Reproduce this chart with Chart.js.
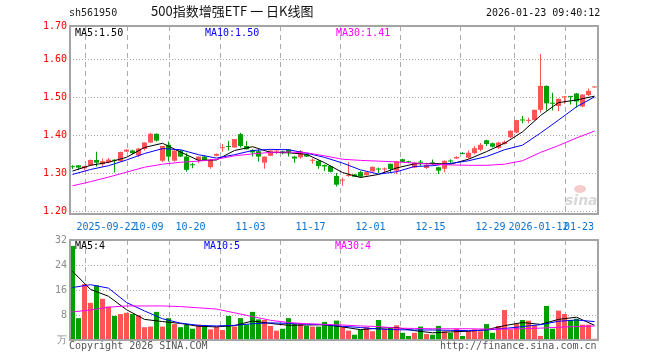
<!DOCTYPE html>
<html>
<head>
<meta charset="utf-8">
<title>500指数增强ETF 日K线图</title>
<script src="https://cdn.jsdelivr.net/npm/chart.js@4.4.1/dist/chart.umd.min.js"></script>
<style>
  body { margin: 0; background: #fff; }
  #box { position: relative; width: 660px; height: 360px; overflow: hidden; font: 10px 'DejaVu Sans Mono', monospace; }
  #box canvas { position: absolute; left: 0; }
  .txt { position: absolute; white-space: pre; line-height: 12px; }
</style>
</head>
<body>
<div id="box">
  <canvas id="kChart" width="660" height="240" style="top:0"></canvas>
  <canvas id="volChart" width="660" height="130" style="top:230px"></canvas>
  <div class="txt" style="left:69px;top:7px;color:#222">sh561950</div>
  <div class="txt" style="left:151px;top:3px;font:13px 'Noto Sans CJK SC';line-height:16px;color:#111">500指数增强ETF 一 日K线图</div>
  <div class="txt" style="left:486px;top:7px;color:#111">2026-01-23 09:40:12</div>
  <div class="txt" style="left:75px;top:27px;color:#000">MA5:1.50</div>
  <div class="txt" style="left:205px;top:27px;color:#00f">MA10:1.50</div>
  <div class="txt" style="left:336px;top:27px;color:#f0f">MA30:1.41</div>
  <div class="txt" style="left:75px;top:240px;color:#000">MA5:4</div>
  <div class="txt" style="left:204px;top:240px;color:#00f">MA10:5</div>
  <div class="txt" style="left:335px;top:240px;color:#f0f">MA30:4</div>
  <div class="txt" style="left:69px;top:340px;color:#555">Copyright 2026 SINA.COM</div>
  <div class="txt" style="left:440px;top:340px;color:#555">http://finance.sina.com.cn</div>
  <div style="position:absolute;left:574px;top:185px;width:12px;height:8px;border-radius:50%;background:#f4cccc"></div>
  <div class="txt" style="left:565px;top:192px;font:italic bold 14px 'DejaVu Sans';line-height:16px;color:#d8d8d8">sina</div>
</div>
<script>
const dates = ['09-12','09-15','09-16','09-17','09-18','09-19','09-22','09-23','09-24','09-25','09-26','09-29','09-30',
  '10-09','10-10','10-13','10-14','10-15','10-16','10-17','10-20','10-21','10-22','10-23','10-24','10-27','10-28','10-29','10-30','10-31',
  '11-03','11-04','11-05','11-06','11-07','11-10','11-11','11-12','11-13','11-14','11-17','11-18','11-19','11-20','11-21','11-24','11-25','11-26','11-27','11-28',
  '12-01','12-02','12-03','12-04','12-05','12-08','12-09','12-10','12-11','12-12','12-15','12-16','12-17','12-18','12-19','12-22','12-23','12-24','12-25','12-26','12-29','12-30','12-31',
  '01-05','01-06','01-07','01-08','01-09','01-12','01-13','01-14','01-15','01-16','01-19','01-20','01-21','01-22','01-23'];

const open = [1.317,1.321,1.313,1.321,1.335,1.324,1.329,1.335,1.332,1.357,
  1.360,1.347,1.364,1.381,1.404,1.333,1.375,1.333,1.360,1.344,
  1.322,1.335,1.344,1.316,1.346,1.366,1.370,1.368,1.403,1.372,
  1.361,1.358,1.328,1.346,1.357,1.358,1.363,1.344,1.342,1.350,
  1.333,1.333,1.322,1.319,1.293,1.281,1.293,1.297,1.303,1.295,
  1.305,1.311,1.310,1.325,1.307,1.337,1.331,1.315,1.329,1.314,
  1.327,1.316,1.312,1.333,1.339,1.352,1.341,1.353,1.362,1.387,
  1.379,1.367,1.377,1.395,1.407,1.440,1.438,1.440,1.467,1.530,
  1.485,1.477,1.500,1.503,1.510,1.476,1.506,1.526];
const high = [1.321,1.322,1.320,1.336,1.357,1.339,1.340,1.337,1.357,1.364,
  1.362,1.367,1.382,1.407,1.405,1.372,1.384,1.361,1.362,1.353,
  1.328,1.345,1.346,1.337,1.352,1.377,1.385,1.390,1.407,1.385,
  1.363,1.363,1.344,1.361,1.363,1.360,1.364,1.345,1.361,1.351,
  1.339,1.334,1.323,1.320,1.301,1.288,1.330,1.298,1.306,1.304,
  1.318,1.315,1.315,1.326,1.332,1.338,1.333,1.329,1.335,1.328,
  1.336,1.317,1.334,1.337,1.345,1.356,1.360,1.372,1.380,1.388,
  1.381,1.383,1.386,1.413,1.441,1.451,1.446,1.468,1.614,1.531,
  1.512,1.497,1.503,1.503,1.511,1.508,1.523,1.528];
const low = [1.311,1.309,1.309,1.319,1.318,1.318,1.326,1.302,1.331,1.356,
  1.350,1.343,1.360,1.380,1.384,1.330,1.331,1.331,1.343,1.304,
  1.313,1.328,1.332,1.312,1.345,1.357,1.360,1.367,1.368,1.363,
  1.344,1.331,1.312,1.345,1.351,1.350,1.344,1.328,1.338,1.343,
  1.326,1.312,1.307,1.302,1.265,1.267,1.291,1.290,1.289,1.294,
  1.304,1.301,1.300,1.300,1.298,1.329,1.327,1.314,1.320,1.311,
  1.321,1.298,1.303,1.325,1.338,1.350,1.338,1.350,1.358,1.372,
  1.368,1.364,1.376,1.392,1.406,1.432,1.432,1.439,1.459,1.465,
  1.465,1.463,1.483,1.481,1.473,1.474,1.503,1.525];
const close = [1.316,1.315,1.319,1.335,1.328,1.332,1.336,1.333,1.356,1.362,
  1.353,1.365,1.381,1.404,1.386,1.372,1.344,1.360,1.344,1.309,
  1.321,1.344,1.333,1.335,1.351,1.368,1.369,1.390,1.372,1.363,
  1.355,1.344,1.344,1.360,1.358,1.353,1.356,1.339,1.358,1.344,
  1.334,1.319,1.318,1.304,1.270,1.283,1.296,1.291,1.291,1.303,
  1.317,1.310,1.311,1.311,1.331,1.330,1.329,1.328,1.328,1.322,
  1.326,1.307,1.333,1.331,1.343,1.351,1.354,1.366,1.375,1.377,
  1.370,1.381,1.383,1.412,1.440,1.439,1.440,1.467,1.530,1.484,
  1.483,1.496,1.502,1.501,1.489,1.507,1.517,1.527];
// volume, 万手
const volume = [30.1,7.0,17.9,11.9,17.5,13.2,10.7,7.7,8.3,8.7,
  8.3,7.9,4.1,4.3,9.0,4.3,7.0,5.1,4.1,4.9,
  3.6,4.9,4.3,3.4,4.3,3.2,7.7,4.3,7.0,4.9,
  9.0,6.6,6.4,4.5,3.0,3.6,7.0,5.1,5.3,4.5,
  4.3,4.3,5.8,4.9,6.2,4.3,3.0,1.7,3.4,4.1,
  2.8,6.4,3.6,4.1,4.7,2.3,1.3,2.3,4.3,1.9,
  1.7,4.5,2.8,2.3,3.6,1.3,2.8,3.4,2.8,5.1,
  2.3,4.5,9.6,3.4,5.1,6.4,6.2,4.7,1.3,10.9,
  3.6,9.4,8.3,6.4,6.8,4.9,4.9,0.4];

// moving averages, one value every 3rd trading day
const MA_STEP = 3;
const ma5 = [1.306,1.321,1.329,1.342,1.368,1.379,1.356,1.334,1.335,1.360,
  1.370,1.355,1.354,1.350,1.328,1.302,1.289,1.297,1.314,1.325,
  1.326,1.324,1.337,1.357,1.379,1.409,1.452,1.486,1.493,1.503];
const ma10 = [1.297,1.310,1.320,1.335,1.352,1.365,1.362,1.349,1.340,1.349,
  1.360,1.363,1.362,1.353,1.342,1.327,1.309,1.298,1.304,1.318,
  1.320,1.326,1.333,1.344,1.362,1.374,1.406,1.440,1.475,1.501];
const ma30 = [1.267,1.278,1.290,1.303,1.316,1.324,1.329,1.332,1.337,1.346,
  1.351,1.355,1.356,1.354,1.346,1.337,1.334,1.332,1.330,1.327,
  1.324,1.322,1.321,1.321,1.324,1.333,1.355,1.373,1.393,1.411];
const volMa5 = [22.0,16.2,14.0,9.7,6.6,5.9,5.3,4.4,4.2,4.6,
  6.1,5.3,4.7,4.8,4.9,4.2,3.3,3.8,4.0,3.0,
  2.3,2.6,2.8,3.3,4.6,5.6,5.0,6.6,7.3,4.7];
const volMa10 = [16.8,17.7,16.6,12.0,9.3,6.8,5.4,4.7,4.5,4.7,
  5.2,5.5,5.3,5.1,4.9,4.4,4.0,3.5,3.3,3.2,
  3.2,3.1,3.0,3.2,3.7,4.3,4.9,6.0,6.4,5.9];
const volMa30 = [9.0,9.6,10.5,10.9,10.9,10.9,10.7,10.3,9.9,8.7,
  7.5,6.3,5.6,5.2,5.0,4.8,4.5,4.3,3.8,3.7,
  3.6,3.6,3.6,3.5,3.5,3.6,3.8,4.1,4.3,4.5];

const tickDates = ['09-22','10-09','10-20','11-03','11-17','12-01','12-15','12-29','01-12','01-23'];
const tickLabels = ['2025-09-22','10-09','10-20','11-03','11-17','12-01','12-15','12-29','2026-01-12','01-23'];
const priceTicks = [1.20, 1.30, 1.40, 1.50, 1.60, 1.70];
const priceTickLabels = ['1.20','1.30','1.40','1.50','1.60','1.70'];
const volTicks = [0, 8, 16, 24, 32];
const volTickLabels = ['万','8','16','24','32'];

const RED = '#ff5454';
const GREEN = '#00a000';
const GRID = '#ababab';
const MONO = { family: "'DejaVu Sans Mono', monospace", size: 10 };

// 6px per trading day, index 0 sits 2.5px right of the frame
const X_MIN = -5 / 12;
const X_MAX = dates.length - 5 / 12;
const Y_MIN = 1.1929, Y_MAX = 1.6876;

const tickIdx = tickDates.map(d => dates.indexOf(d));
const candleColor = close.map((c, i) => c >= open[i] ? RED : GREEN);
const maPoints = arr => arr.map((v, k) => ({ x: Math.min(k * MA_STEP, dates.length - 1), y: v }));

const frame = {
  id: 'frame',
  afterDraw(chart) {
    const a = chart.chartArea, c = chart.ctx;
    c.save();
    c.strokeStyle = '#a4a4a4';
    c.lineWidth = 2;
    c.strokeRect(a.left, a.top, a.right - a.left, a.bottom - a.top);
    c.restore();
  }
};

function gridAxis() {
  return {
    type: 'linear', min: X_MIN, max: X_MAX, offset: false,
    afterBuildTicks: s => { s.ticks = tickIdx.map(i => ({ value: i - 1 / 3 })); },
    afterFit: s => { s.height = 0; },
    ticks: { display: false },
    grid: { color: GRID, lineWidth: 1, drawTicks: false },
    border: { display: false, dash: [5, 4] }
  };
}

function lineSet(data, color) {
  return { type: 'line', data: data, borderColor: color, borderWidth: 1, pointRadius: 0, tension: 0, order: 0 };
}

const common = {
  responsive: false,
  animation: false,
  events: [],
  plugins: { legend: { display: false }, tooltip: { enabled: false } }
};

new Chart(document.getElementById('kChart'), {
  type: 'bar',
  data: {
    datasets: [
      { data: dates.map((d, i) => ({ x: i, y: [low[i], high[i]] })), backgroundColor: candleColor,
        barThickness: 1, maxBarThickness: 1, grouped: false, inflateAmount: 0, order: 2 },
      { data: dates.map((d, i) => ({ x: i, y: [open[i], close[i]] })), backgroundColor: candleColor,
        barThickness: 5, maxBarThickness: 5, minBarLength: 1, grouped: false, inflateAmount: 0, order: 1 },
      lineSet(maPoints(ma30), '#ff00ff'),
      lineSet(maPoints(ma10), '#0000ff'),
      lineSet(maPoints(ma5), '#000000')
    ]
  },
  options: {
    ...common,
    layout: { padding: { left: 0, top: 26, right: 62, bottom: 0 } },
    scales: {
      x: gridAxis(),
      xl: {
        type: 'linear', position: 'bottom', min: X_MIN, max: X_MAX, offset: false,
        afterBuildTicks: s => {
          s.ticks = tickIdx.map((i, k) => {
            if (k === tickIdx.length - 1) {
              // last date label is pushed inside the frame
              const half = tickLabels[k].length * 6.02 / 2;
              return { value: X_MAX - (half + 4) / 6 };
            }
            return { value: i - 1 / 3 };
          });
        },
        afterFit: s => { s.height = 26; },
        grid: { display: false, drawTicks: false },
        border: { display: false },
        ticks: { color: '#0a72d2', font: MONO, padding: 7, autoSkip: false, maxRotation: 0, minRotation: 0,
                 callback: (v, k) => tickLabels[k] }
      },
      y: {
        type: 'linear', min: Y_MIN, max: Y_MAX,
        afterBuildTicks: s => { s.ticks = priceTicks.map(v => ({ value: Math.min(Math.max(v, Y_MIN), Y_MAX) })); },
        afterFit: s => { s.width = 70; },
        ticks: { color: '#ff0000', font: MONO, padding: 3, callback: (v, k) => priceTickLabels[k] },
        grid: { color: GRID, lineWidth: 1, drawTicks: false },
        border: { display: false, dash: [1, 2] }
      }
    }
  },
  plugins: [frame]
});

new Chart(document.getElementById('volChart'), {
  type: 'bar',
  data: {
    datasets: [
      { data: dates.map((d, i) => ({ x: i, y: volume[i] })), backgroundColor: candleColor,
        barThickness: 5, maxBarThickness: 5, grouped: false, inflateAmount: 0, order: 1 },
      lineSet(maPoints(volMa30), '#ff00ff'),
      lineSet(maPoints(volMa10), '#0000ff'),
      lineSet(maPoints(volMa5), '#000000')
    ]
  },
  options: {
    ...common,
    layout: { padding: { left: 0, top: 10, right: 62, bottom: 20 } },
    scales: {
      x: gridAxis(),
      y: {
        type: 'linear', min: 0, max: 32,
        afterBuildTicks: s => { s.ticks = volTicks.map(v => ({ value: v })); },
        afterFit: s => { s.width = 70; },
        ticks: { color: '#8c8c8c', font: MONO, padding: 3, callback: (v, k) => volTickLabels[k] },
        grid: { color: GRID, lineWidth: 1, drawTicks: false },
        border: { display: false, dash: [1, 2] }
      }
    }
  },
  plugins: [frame]
});
</script>
</body>
</html>
